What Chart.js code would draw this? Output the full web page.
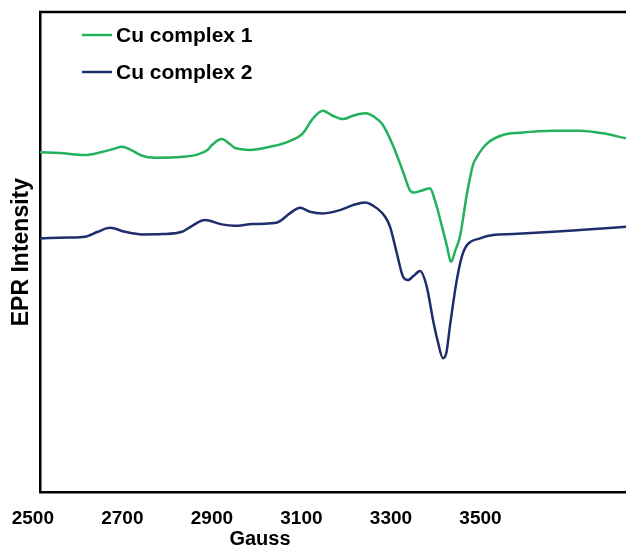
<!DOCTYPE html>
<html>
<head>
<meta charset="utf-8">
<title>EPR spectra</title>
<script src="https://cdn.jsdelivr.net/npm/chart.js@4.4.1/dist/chart.umd.min.js"></script>
<style>
    html, body { margin: 0; padding: 0; background: #fff; overflow: hidden; }
    .chart__wrapp { width: 626px; height: 546px; }
</style>
</head>
<body>
<div class="chart__wrapp">
    <canvas id="epr" width="626" height="546"></canvas>
</div>
<script>
// data (field in Gauss, intensity in arbitrary units)
var gauss1 = [2516, 2560, 2616, 2654, 2680, 2699, 2720, 2744, 2773, 2817, 2869, 2890, 2900, 2922, 2940, 2951, 2963, 2985, 3030, 3074,
    3103, 3126, 3148, 3170, 3193, 3215, 3242, 3269, 3282, 3304, 3327, 3342, 3352, 3365, 3387, 3398, 3416, 3425, 3434, 3444,
    3454, 3470, 3483, 3492, 3515, 3550, 3588, 3662, 3722, 3774, 3825];
var epr1 = [339.7, 339, 337, 340, 343, 345.3, 342, 336.3, 334.3, 334.7, 337.7, 342, 347, 353, 348, 344.3, 343, 342, 345.3, 351,
    358.7, 373.7, 381.3, 376.3, 373, 376.3, 378.7, 373, 367, 347, 320.3, 302, 299.5, 301, 303.7, 292, 262, 246, 230.3, 242,
    255.3, 299, 327, 335.3, 348.7, 357, 359.3, 361.3, 361.3, 358.7, 353.7];

var gauss2 = [2516, 2580, 2616, 2645, 2672, 2706, 2744, 2790, 2833, 2855, 2884, 2922, 2951, 2990, 3040, 3052, 3074, 3097, 3119, 3148,
    3186, 3215, 3242, 3269, 3287, 3298, 3313, 3327, 3338, 3350, 3365, 3380, 3394, 3405, 3416, 3424, 3432, 3447, 3458, 3470,
    3499, 3528, 3573, 3662, 3738, 3825];
var epr2 = [253.7, 254.5, 255.3, 260.3, 264.3, 260.3, 257.7, 258, 260.3, 266, 272, 267.7, 266.3, 268, 269, 271, 278.7, 284.3, 280.3, 278.7,
    282, 287, 289.7, 283.7, 275.3, 265.3, 239, 215.3, 212, 216, 221, 205.3, 172, 150, 134, 140, 167, 212, 235, 247,
    253.7, 257, 258, 260.3, 262.7, 265.3];

var seriesNames = ['Cu complex 1', 'Cu complex 2'];
var xTicks = [2500, 2700, 2900, 3100, 3300, 3500];

var fontFamily = '"Liberation Sans", Arial, sans-serif';

function toPoints(xs, ys) {
    return xs.map(function(x, i) {
        return { x: x, y: ys[i] };
    });
}

// top line of the frame (left and bottom come from the axes)
var framePlugin = {
    id: 'frame',
    afterDraw: function(chart) {
        var ctx = chart.ctx;
        var area = chart.chartArea;
        ctx.save();
        ctx.strokeStyle = '#000';
        ctx.lineWidth = 2.5;
        ctx.beginPath();
        ctx.moveTo(area.left - 1, area.top);
        ctx.lineTo(area.right, area.top);
        ctx.stroke();
        ctx.restore();
    }
};

// legend inside the plot, top left
var insideLegend = {
    id: 'insideLegend',
    afterDraw: function(chart) {
        var ctx = chart.ctx;
        var area = chart.chartArea;
        var x = area.left + 42;
        var y = area.top + 23;
        ctx.save();
        ctx.font = 'bold 21px ' + fontFamily;
        ctx.textBaseline = 'middle';
        ctx.fillStyle = '#000';
        chart.data.datasets.forEach(function(ds) {
            ctx.strokeStyle = ds.borderColor;
            ctx.lineWidth = 2.5;
            ctx.beginPath();
            ctx.moveTo(x, y);
            ctx.lineTo(x + 30, y);
            ctx.stroke();
            ctx.fillText(ds.label, x + 34, y + 1);
            y += 37;
        });
        ctx.restore();
    }
};

// x axis title sits left of centre in the original
var gaussTitle = {
    id: 'gaussTitle',
    afterDraw: function(chart) {
        var ctx = chart.ctx;
        ctx.save();
        ctx.font = 'bold 20px ' + fontFamily;
        ctx.fillStyle = '#000';
        ctx.textAlign = 'center';
        ctx.textBaseline = 'alphabetic';
        ctx.fillText('Gauss', chart.chartArea.left + 220, chart.height - 1);
        ctx.restore();
    }
};

var myChart = new Chart(document.getElementById('epr'), {
    type: 'line',
    data: {
        datasets: [{
            label: seriesNames[0],
            data: toPoints(gauss1, epr1),
            borderColor: '#23b15e',
            borderWidth: 2.5,
            pointRadius: 0,
            cubicInterpolationMode: 'monotone',
            fill: false
        }, {
            label: seriesNames[1],
            data: toPoints(gauss2, epr2),
            borderColor: '#1e2d6b',
            borderWidth: 2.5,
            pointRadius: 0,
            cubicInterpolationMode: 'monotone',
            fill: false
        }]
    },
    options: {
        responsive: false,
        animation: false,
        events: [],
        layout: {
            padding: { left: 3, top: 12, right: 0, bottom: 0 }
        },
        plugins: {
            legend: { display: false },
            tooltip: { enabled: false }
        },
        scales: {
            x: {
                type: 'linear',
                min: 2516,
                max: 3825,
                afterBuildTicks: function(scale) {
                    scale.ticks = xTicks.map(function(v) { return { value: v }; });
                },
                afterFit: function(scale) {
                    // first label hangs left of the frame, don't reserve room for it
                    scale.paddingLeft = 0;
                    scale.paddingRight = 0;
                },
                grid: { display: false, drawTicks: false },
                border: { color: '#000', width: 2.5 },
                ticks: {
                    color: '#000',
                    padding: 15.5,
                    autoSkip: false,
                    maxRotation: 0,
                    callback: function(v) { return String(v); },
                    font: { family: fontFamily, size: 19, weight: 'bold' }
                }
            },
            y: {
                min: 0,
                max: 480,
                grid: { display: false, drawTicks: false },
                border: { color: '#000', width: 2.5 },
                ticks: { display: false },
                title: {
                    display: true,
                    text: 'EPR Intensity',
                    color: '#000',
                    padding: { top: 5, bottom: 4.4 },
                    font: { family: fontFamily, size: 23, weight: 'bold' }
                }
            }
        }
    },
    plugins: [framePlugin, insideLegend, gaussTitle]
});
</script>
</body>
</html>
